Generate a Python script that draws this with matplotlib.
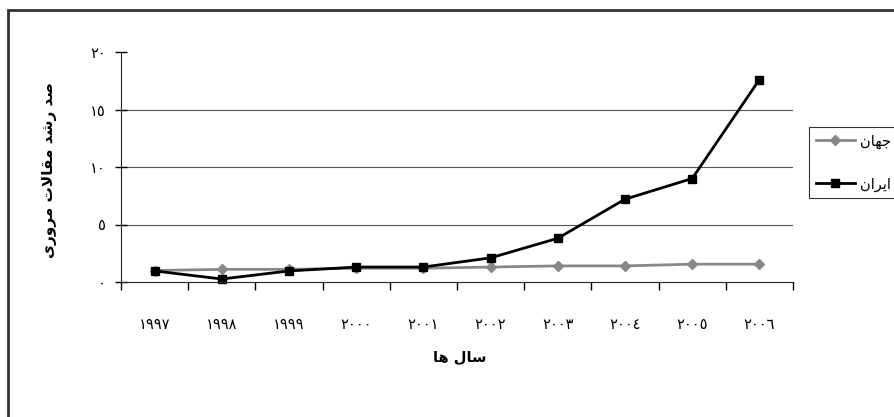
import matplotlib
matplotlib.use('Agg')
import matplotlib.pyplot as plt
from matplotlib.patches import Rectangle
from matplotlib.lines import Line2D

# values
years = ['١٩٩٧', '١٩٩٨', '١٩٩٩', '٢٠٠٠', '٢٠٠١', '٢٠٠٢', '٢٠٠٣', '٢٠٠٤', '٢٠٠٥', '٢٠٠٦']
world = [1.0, 1.1, 1.1, 1.2, 1.2, 1.3, 1.4, 1.4, 1.55, 1.55]
iran = [0.96, 0.26, 0.96, 1.3, 1.3, 2.1, 3.8, 7.2, 9.0, 17.6]
yticks = [0, 5, 10, 15, 20]
ytick_labels = ['٠', '٥', '١٠', '١٥', '٢٠']

# simple arabic/persian shaping (isolated, final, initial, medial)
FORMS = {
    'ا': ('\uFE8D', '\uFE8E', None, None),
    'د': ('\uFEA9', '\uFEAA', None, None),
    'ر': ('\uFEAD', '\uFEAE', None, None),
    'و': ('\uFEED', '\uFEEE', None, None),
    'ص': ('\uFEB9', '\uFEBA', '\uFEBB', '\uFEBC'),
    'ش': ('\uFEB5', '\uFEB6', '\uFEB7', '\uFEB8'),
    'م': ('\uFEE1', '\uFEE2', '\uFEE3', '\uFEE4'),
    'ق': ('\uFED5', '\uFED6', '\uFED7', '\uFED8'),
    'ل': ('\uFEDD', '\uFEDE', '\uFEDF', '\uFEE0'),
    'ت': ('\uFE95', '\uFE96', '\uFE97', '\uFE98'),
    'س': ('\uFEB1', '\uFEB2', '\uFEB3', '\uFEB4'),
    'ه': ('\uFEE9', '\uFEEA', '\uFEEB', '\uFEEC'),
    'ج': ('\uFE9D', '\uFE9E', '\uFE9F', '\uFEA0'),
    'ن': ('\uFEE5', '\uFEE6', '\uFEE7', '\uFEE8'),
    'ی': ('\uFBFC', '\uFBFD', '\uFBFE', '\uFBFF'),
}


def shape(text):
    chars = list(text)
    out = []
    i = 0
    n = len(chars)

    def joins_left(c):
        return c in FORMS and FORMS[c][2] is not None

    while i < n:
        c = chars[i]
        if c not in FORMS:
            out.append(c)
            i += 1
            continue
        prev = chars[i - 1] if i > 0 else None
        from_prev = prev is not None and joins_left(prev)
        # lam-alef ligature
        if c == 'ل' and i + 1 < n and chars[i + 1] == 'ا':
            out.append('\uFEFC' if from_prev else '\uFEFB')
            i += 2
            continue
        nxt = chars[i + 1] if i + 1 < n else None
        to_next = joins_left(c) and nxt in FORMS
        iso, fin, ini, med = FORMS[c]
        if from_prev and to_next:
            out.append(med)
        elif from_prev:
            out.append(fin)
        elif to_next:
            out.append(ini)
        else:
            out.append(iso)
        i += 1
    return ''.join(reversed(out))


plt.rcParams['font.family'] = ['DejaVu Sans']

fig = plt.figure(figsize=(8.94, 4.17), dpi=100)
W, H = 894, 417
ax = fig.add_axes([121 / W, 1 - 282 / H, (793 - 121) / W, (282 - 52) / H])

x = list(range(len(years)))
ax.plot(x, world, color='#888888', lw=2, marker='D', ms=5, clip_on=False)
ax.plot(x, iran, color='black', lw=2, marker='s', ms=6, clip_on=False)

ax.set_xlim(-0.5, len(years) - 0.5)
ax.set_ylim(0, 20)
ax.set_yticks(yticks)
ax.set_yticklabels(ytick_labels, fontsize=10.5)
ax.set_xticks(x)
ax.set_xticklabels(years, fontsize=10.5)
ax.set_xticks([v - 0.5 for v in range(len(years) + 1)], minor=True)
ax.tick_params(axis='x', which='major', length=0, pad=25)
ax.tick_params(axis='x', which='minor', length=6, direction='out', width=1)
ax.tick_params(axis='y', length=8, direction='inout', width=1, pad=7)

for g in [5, 10, 15]:
    ax.axhline(g, color='#555555', lw=0.8, zorder=0)

for s in ['top', 'right']:
    ax.spines[s].set_visible(False)
ax.spines['left'].set_color('#222222')
ax.spines['bottom'].set_color('#222222')

ax.set_xlabel(shape('سال ها'), fontsize=10.5, fontweight='bold')
ax.xaxis.set_label_coords((460 - 121) / (793 - 121), -(357 - 282) / (282 - 52))
ax.xaxis.label.set_va('center')
ax.set_ylabel(shape('صد رشد مقالات مروری'), fontsize=11, fontweight='bold')
ax.yaxis.set_label_coords(-(121 - 50) / (793 - 121), (282 - 170) / (282 - 52))
ax.yaxis.label.set_va('center')

h = [Line2D([], [], color='#888888', lw=2, marker='D', ms=5),
     Line2D([], [], color='black', lw=2, marker='s', ms=6)]
leg = fig.legend(h, [shape('جهان'), shape('ایران')], loc='upper left',
                 bbox_to_anchor=(809 / W, 1 - 127 / H), borderaxespad=0, fontsize=10.5,
                 frameon=True, fancybox=False, edgecolor='black', borderpad=0.45,
                 labelspacing=1.9, handlelength=2.7, handletextpad=0.35)
leg.get_frame().set_linewidth(0.8)

fig.patches.append(Rectangle((8 / W, -0.1), 1.2, 1 - 10 / H + 0.1, transform=fig.transFigure,
                             fill=False, edgecolor='#333333', lw=2))

fig.savefig('out.png', dpi=100)
